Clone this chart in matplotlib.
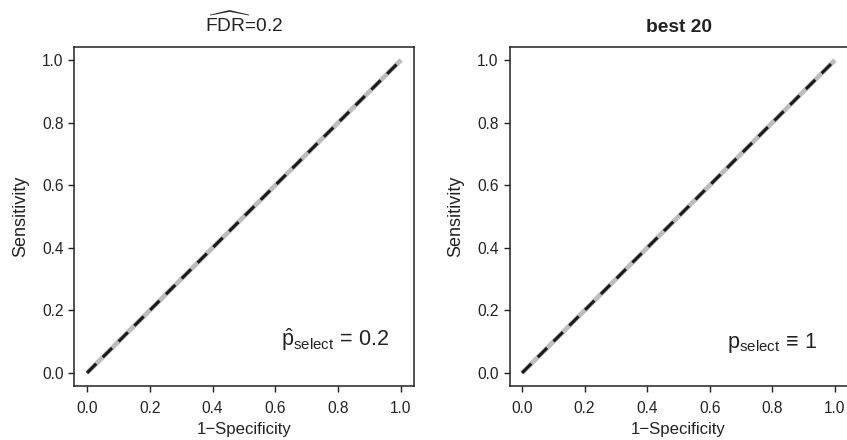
import matplotlib
matplotlib.use("Agg")
import matplotlib.pyplot as plt

plt.rcParams['font.family'] = ['Liberation Sans', 'DejaVu Sans']
plt.rcParams['mathtext.fontset'] = 'custom'
plt.rcParams['mathtext.rm'] = 'Liberation Sans'
plt.rcParams['mathtext.it'] = 'Liberation Sans:italic'
plt.rcParams['mathtext.bf'] = 'Liberation Sans:bold'

# Data: ROC curves (gray = reference diagonal, black dashed = estimated)
fpr_ref = [0.0, 1.0]
tpr_ref = [0.0, 1.0]
fpr_fdr = [0.0, 1.0]
tpr_fdr = [0.0, 1.0]
fpr_best = [0.0, 1.0]
tpr_best = [0.0, 1.0]
ticks = [0.0, 0.2, 0.4, 0.6, 0.8, 1.0]
tick_labels = ["0.0", "0.2", "0.4", "0.6", "0.8", "1.0"]

titles = [r'$\widehat{\mathrm{FDR}}$=0.2', 'best 20']
title_weights = ['normal', 'bold']
annots = [r'$\hat{\mathrm{p}}_{\mathrm{select}}\,=\,0.2$', r'$\mathrm{p}_{\mathrm{select}}\,\equiv\,1$']
annot_pos = [(0.79, 0.086), (0.80, 0.08)]
curves = [(fpr_fdr, tpr_fdr), (fpr_best, tpr_best)]

TXT = '#222222'
fig = plt.figure(figsize=(8.47, 4.40), dpi=100)
bottom = 54.5 / 440
height = (385.5 - 47.5) / 440
positions = [[74.4 / 847, bottom, 339.2 / 847, height],
             [509.5 / 847, bottom, 338.0 / 847, height]]

for i in range(2):
    ax = fig.add_axes(positions[i])
    ax.plot(fpr_ref, tpr_ref, color='#bdbdbd', lw=3.4, solid_capstyle='butt', zorder=2)
    fx, fy = curves[i]
    ax.plot(fx, fy, color='#1a1a1a', lw=2.2, dashes=(4.3, 3.0), dash_capstyle='butt', zorder=3)
    ax.set_xlim(-0.04, 1.04)
    ax.set_ylim(-0.04, 1.04)
    ax.set_xticks(ticks)
    ax.set_xticklabels(tick_labels)
    ax.set_yticks(ticks)
    ax.set_yticklabels(tick_labels)
    ax.tick_params(axis='both', labelsize=11.2, length=4.3, width=1.0, color=TXT, labelcolor=TXT)
    ax.tick_params(axis='x', pad=6.5)
    ax.tick_params(axis='y', pad=3.6)
    for s in ax.spines.values():
        s.set_linewidth(1.1)
        s.set_color(TXT)
    ax.set_xlabel('1\u2212Specificity', fontsize=12.1, labelpad=5, color=TXT)
    ax.set_ylabel('Sensitivity', fontsize=13.0, labelpad=9, color=TXT)
    ax.set_title(titles[i], fontsize=13.8, fontweight=title_weights[i], pad=11, color=TXT)
    ax.text(annot_pos[i][0], annot_pos[i][1], annots[i], fontsize=15.5, ha='center', va='baseline', color=TXT)

fig.savefig('out.png', dpi=100)
